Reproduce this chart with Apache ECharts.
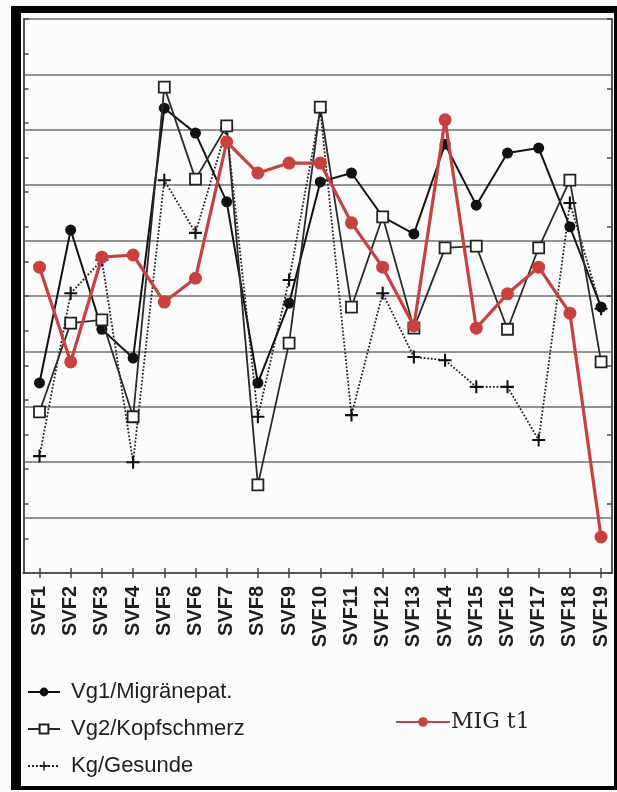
<!DOCTYPE html>
<html>
<head>
<meta charset="utf-8">
<script src="https://cdn.jsdelivr.net/npm/echarts@6/dist/echarts.min.js"></script>
<style>
html,body{margin:0;padding:0;background:#fff;}
#c{width:617px;height:792px;}
</style>
</head>
<body>
<div id="c"></div>
<script>
const categories = ['SVF1','SVF2','SVF3','SVF4','SVF5','SVF6','SVF7','SVF8','SVF9','SVF10','SVF11','SVF12','SVF13','SVF14','SVF15','SVF16','SVF17','SVF18','SVF19'];
const vg1 = [3.43, 6.19, 4.40, 3.88, 8.39, 7.94, 6.70, 3.43, 4.87, 7.06, 7.22, 6.43, 6.12, 7.74, 6.64, 7.58, 7.67, 6.25, 4.80];
const vg2 = [2.91, 4.51, 4.57, 2.82, 8.77, 7.11, 8.07, 1.59, 4.15, 8.41, 4.80, 6.43, 4.42, 5.87, 5.90, 4.40, 5.87, 7.09, 3.81];
const kg  = [2.11, 5.05, 5.65, 2.00, 7.09, 6.14, 8.03, 2.82, 5.29, 8.36, 2.85, 5.05, 3.90, 3.84, 3.36, 3.36, 2.40, 6.68, 4.77];
const mig = [5.52, 3.81, 5.70, 5.74, 4.89, 5.32, 7.78, 7.22, 7.40, 7.40, 6.32, 5.52, 4.46, 8.18, 4.42, 5.04, 5.52, 4.69, 0.65];
const names = ['Vg1/Migränepat.', 'Vg2/Kopfschmerz', 'Kg/Gesunde', 'MIG t1'];

const positions = categories.map((c, i) => i + 1);
const toPairs = arr => arr.map((v, i) => [positions[i], v]);
const plus = 'path://M4.2,0H5.8V4.2H10V5.8H5.8V10H4.2V5.8H0V4.2H4.2Z';

const chart = echarts.init(document.getElementById('c'), null, {renderer: 'canvas'});
const axisCol = '#555';
chart.setOption({
  backgroundColor: '#fdfcfc',
  animation: false,
  grid: {left: 23.5, right: 5, top: 19, bottom: 219, containLabel: false},
  xAxis: [{
    type: 'value', position: 'bottom', min: 0.487, max: 19.35,
    axisLine: {show: true, lineStyle: {color: axisCol, width: 2}},
    axisTick: {show: true, inside: true, length: 5, customValues: positions, lineStyle: {color: '#444', width: 1.5}},
    axisLabel: {show: true, customValues: positions, rotate: 90, margin: 13,
      formatter: v => categories[Math.round(v) - 1] || '',
      fontFamily: 'Liberation Sans', fontSize: 20, fontWeight: 'bold', color: '#1e1e1e'},
    splitLine: {show: false}
  }, {
    type: 'value', position: 'top', min: 0.487, max: 19.35,
    axisLine: {show: true, lineStyle: {color: axisCol, width: 2}},
    axisTick: {show: true, inside: true, length: 5, customValues: positions, lineStyle: {color: '#444', width: 1.5}},
    axisLabel: {show: false},
    splitLine: {show: false}
  }],
  yAxis: [{
    type: 'value', position: 'left', min: 0, max: 10, interval: 1,
    axisLine: {show: true, lineStyle: {color: axisCol, width: 2}},
    axisTick: {show: false}, axisLabel: {show: false},
    splitLine: {show: true, lineStyle: {color: '#707070', width: 1.5}}
  }, {
    type: 'value', position: 'left', min: 0, max: 16, interval: 1,
    axisLine: {show: false},
    axisTick: {show: true, inside: true, length: 5, lineStyle: {color: '#444', width: 1.5}},
    axisLabel: {show: false}, splitLine: {show: false}
  }, {
    type: 'value', position: 'right', min: 0, max: 16, interval: 2,
    axisLine: {show: true, lineStyle: {color: axisCol, width: 2}},
    axisTick: {show: true, inside: true, length: 5, lineStyle: {color: '#444', width: 1.5}},
    axisLabel: {show: false}, splitLine: {show: false}
  }],
  legend: [{
    orient: 'vertical', left: 22, top: 676, itemGap: 15,
    itemWidth: 32, itemHeight: 11,
    data: names.slice(0, 3),
    textStyle: {fontFamily: 'Liberation Sans', fontSize: 22, color: '#1e1e1e', padding: [0, 0, 0, 6]}
  }, {
    orient: 'horizontal', left: 390, top: 706,
    itemWidth: 54, itemHeight: 12,
    data: [names[3]],
    textStyle: {fontFamily: 'DejaVu Serif', fontSize: 22, color: '#222', padding: [0, 0, 0, -4]}
  }],
  series: [{
    name: names[0], type: 'line', data: toPairs(vg1),
    symbol: 'circle', symbolSize: 11,
    lineStyle: {color: '#111', width: 2},
    itemStyle: {color: '#111'}, z: 3
  }, {
    name: names[1], type: 'line', data: toPairs(vg2),
    symbol: 'rect', symbolSize: 11,
    lineStyle: {color: '#2a2a2a', width: 1.8},
    itemStyle: {color: '#fff', borderColor: '#222', borderWidth: 1.8}, z: 4
  }, {
    name: names[2], type: 'line', data: toPairs(kg),
    symbol: plus, symbolSize: 13,
    lineStyle: {color: '#222', width: 1.8, type: 'dotted'},
    itemStyle: {color: '#111'}, z: 3
  }, {
    name: names[3], type: 'line', data: toPairs(mig),
    symbol: 'circle', symbolSize: 13,
    lineStyle: {color: '#c8413f', width: 3.2},
    itemStyle: {color: '#c8413f'}, z: 5
  }],
  graphic: [
    {type: 'rect', shape: {x: 11, y: 6, width: 10, height: 784}, style: {fill: '#000'}, silent: true},
    {type: 'rect', shape: {x: 11, y: 6, width: 606, height: 7}, style: {fill: '#000'}, silent: true},
    {type: 'rect', shape: {x: 11, y: 786, width: 606, height: 4}, style: {fill: '#000'}, silent: true},
    {type: 'rect', shape: {x: 614, y: 6, width: 3, height: 784}, style: {fill: '#000'}, silent: true}
  ]
});
</script>
</body>
</html>
